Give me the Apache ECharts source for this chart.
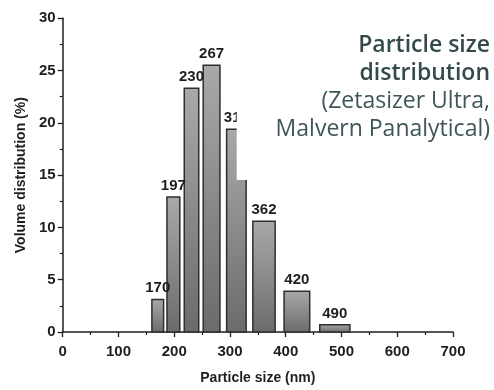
<!DOCTYPE html>
<html>
<head>
<meta charset="utf-8">
<script src="https://cdn.jsdelivr.net/npm/echarts@6/dist/echarts.min.js"></script>
<style>
  html, body { margin: 0; padding: 0; background: #fff; }
  #chart { width: 494px; height: 390px; }
</style>
</head>
<body>
<div id="chart"></div>
<script>
// bin edges (nm) and volume share (%)
const binStart = [160, 187, 218, 252, 294, 341, 397, 461];
const binEnd = [181, 210, 244, 282, 329, 381, 443, 515];
const volume = [3.1, 12.9, 23.3, 25.5, 19.4, 10.6, 3.9, 0.7];
const peakLabels = ['170', '197', '230', '267', '316', '362', '420', '490'];

const xTicks = { min: 0, max: 700, interval: 100 };
const yTicks = { min: 0, max: 30, interval: 5 };

const chart = echarts.init(document.getElementById('chart'));

const tickFont = {
  color: '#1e1e1e',
  fontFamily: 'Liberation Sans, Arial, sans-serif',
  fontWeight: 'bold',
  fontSize: 15
};
const nameFont = Object.assign({}, tickFont, { fontSize: 14 });

// data: [start, end, value, label]
const bins = binStart.map(function (s, i) {
  return [s, binEnd[i], volume[i], peakLabels[i]];
});

const option = {
  animation: false,
  backgroundColor: '#fff',
  grid: {
    left: 62.7,
    right: 41,
    top: 18.3,
    bottom: 55
  },
  title: {
    text: 'Particle size\ndistribution',
    subtext: '(Zetasizer Ultra,\nMalvern Panalytical)',
    left: 490,
    top: 31,
    textAlign: 'right',
    itemGap: 0,
    padding: 0,
    textStyle: {
      color: '#34494c',
      fontFamily: 'Open Sans, sans-serif',
      fontWeight: 600,
      fontSize: 23,
      lineHeight: 28
    },
    subtextStyle: {
      color: '#3f5659',
      fontFamily: 'Open Sans, sans-serif',
      fontWeight: 'normal',
      fontSize: 23,
      lineHeight: 28
    }
  },
  // white box behind the caption, it covers part of the 316 bar as in the figure
  graphic: [{
    type: 'rect',
    left: 236.7,
    top: 0,
    shape: { width: 260, height: 180 },
    style: { fill: '#fff' },
    z: 5
  }],
  xAxis: {
    type: 'value',
    min: xTicks.min,
    max: xTicks.max,
    interval: xTicks.interval,
    name: 'Particle size (nm)',
    nameLocation: 'middle',
    nameGap: 39,
    nameTextStyle: nameFont,
    axisLine: { show: true, onZero: false, lineStyle: { color: '#1e1e1e', width: 1.5 } },
    axisTick: { show: true, length: 5, lineStyle: { color: '#1e1e1e', width: 1.3 } },
    minorTick: { show: true, splitNumber: 2, length: 3, lineStyle: { color: '#1e1e1e', width: 1.2 } },
    axisLabel: Object.assign({ margin: 12 }, tickFont),
    splitLine: { show: false }
  },
  yAxis: {
    type: 'value',
    min: yTicks.min,
    max: yTicks.max,
    interval: yTicks.interval,
    name: 'Volume distribution (%)',
    nameLocation: 'middle',
    nameGap: 35,
    nameTextStyle: nameFont,
    axisLine: { show: true, lineStyle: { color: '#1e1e1e', width: 1.5 } },
    axisTick: { show: true, length: 5, lineStyle: { color: '#1e1e1e', width: 1.3 } },
    minorTick: { show: true, splitNumber: 2, length: 3, lineStyle: { color: '#1e1e1e', width: 1.2 } },
    axisLabel: Object.assign({ margin: 7 }, tickFont),
    splitLine: { show: false }
  },
  series: [{
    type: 'custom',
    data: bins,
    encode: { x: [0, 1], y: 2 },
    renderItem: function (params, api) {
      const topLeft = api.coord([api.value(0), api.value(2)]);
      const bottomRight = api.coord([api.value(1), 0]);
      return {
        type: 'rect',
        shape: {
          x: topLeft[0],
          y: topLeft[1],
          width: bottomRight[0] - topLeft[0],
          height: bottomRight[1] - topLeft[1]
        },
        style: {
          fill: new echarts.graphic.LinearGradient(0, 0, 0, 1, [
            { offset: 0, color: '#a9a9a9' },
            { offset: 1, color: '#6b6b6b' }
          ]),
          stroke: '#2e2e2e',
          lineWidth: 1.5
        },
        textContent: {
          style: {
            text: api.value(3),
            fill: '#1e1e1e',
            font: 'bold 15px "Liberation Sans", Arial, sans-serif'
          }
        },
        textConfig: { position: 'top', distance: 3 }
      };
    }
  }]
};

chart.setOption(option);
</script>
</body>
</html>
